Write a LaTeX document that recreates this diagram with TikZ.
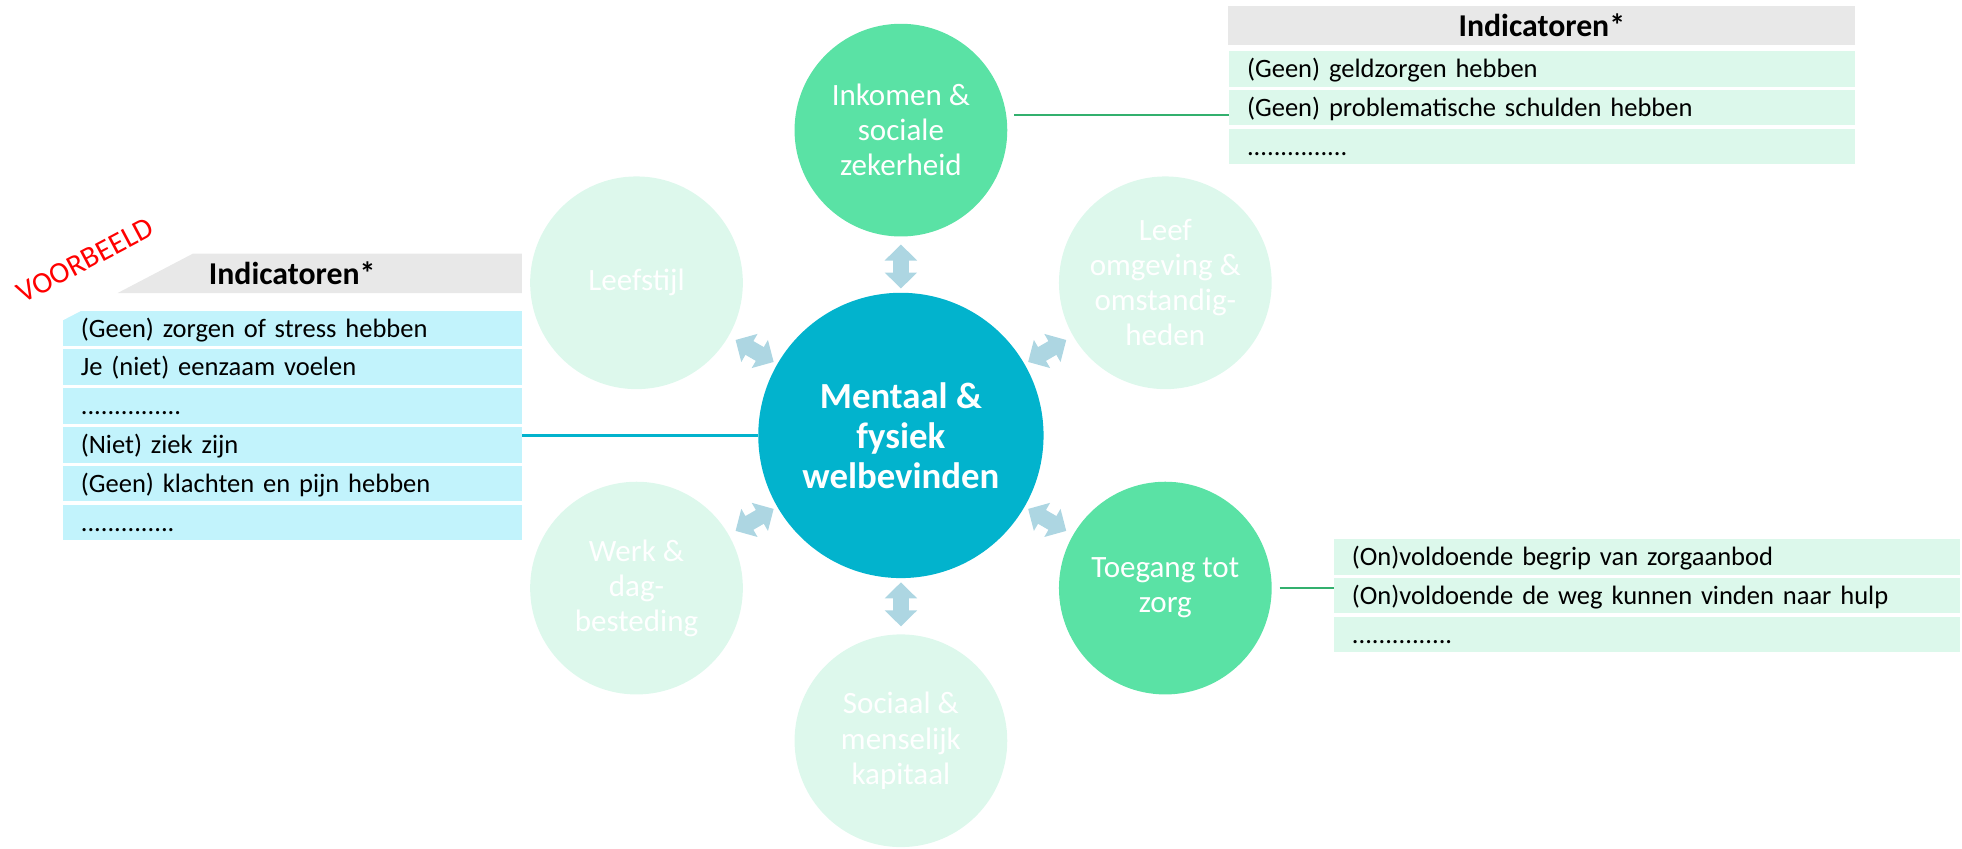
\documentclass[tikz,border=0pt]{standalone}
\usepackage{fontspec}
\setmainfont{Carlito}
\usepackage{tikz}
\usetikzlibrary{arrows.meta}
\usetikzlibrary{positioning}
\definecolor{hubblue}{HTML}{02B3CD}
\definecolor{themegreen}{HTML}{5AE2A5}
\definecolor{themepale}{HTML}{DDF8EC}
\definecolor{rowcyan}{HTML}{C2F3FC}
\definecolor{rowgreen}{HTML}{DCF8EB}
\definecolor{headgray}{HTML}{E8E8E8}
\definecolor{linkblue}{HTML}{ADD6E2}
\definecolor{linegreen}{HTML}{33B06E}
\tikzset{>=latex}
\newcommand\hubsize{114pt}
\newcommand\themesize{85pt}
\newcommand\themedist{122pt}
\newcommand\rowheight{14.2pt}
\newcommand\rowpitch{15.5pt}
\tikzset{
    hub/.style={circle, fill=hubblue, minimum size=\hubsize, inner sep=0pt, text=white, align=center, font=\fontsize{14.7}{16}\selectfont\bfseries},
    theme/.style={circle, fill=themepale, minimum size=\themesize, inner sep=0pt, text=white, align=center, font=\fontsize{12.4}{14}\selectfont},
    active/.style={fill=themegreen},
    twoway/.style={{Triangle[width=12.6pt,length=6.4pt]}-{Triangle[width=12.6pt,length=6.4pt]}, line width=6.35pt, linkblue, shorten <=1.5pt, shorten >=3pt},
    link/.style={line width=0.9pt},
}
\tikzset{
    row/.style={minimum height=\rowheight, inner xsep=7.3pt, inner ysep=0pt, outer sep=0pt, text height=8.4pt, text depth=1.4pt, align=left, font=\fontsize{10.6}{12}\selectfont, node distance=\rowpitch, on grid},
    leftrow/.style={row, fill=rowcyan, text width=168.9pt},
    rightrow/.style={row, fill=rowgreen, text width=235.6pt},
    tablehead/.style={minimum height=15.7pt, inner sep=0pt, outer sep=0pt, text height=9.5pt, text depth=0.7pt, font=\fontsize{12.7}{14}\selectfont\bfseries},
}
\begin{document}
\begin{tikzpicture}[x=1pt,y=1pt]
    \useasboundingbox (-360,-165) rectangle (424,174);
    % hub and themes
    \node(hub)[hub]{Mentaal \&\\fysiek\\welbevinden};
    \node(inkomen)[theme, active] at (90:\themedist){Inkomen \&\\sociale\\zekerheid};
    \node(leefomg)[theme] at (30:\themedist){Leef\\omgeving \&\\omstandig-\\heden};
    \node(toegang)[theme, active] at (-30:\themedist){Toegang tot\\zorg};
    \node(sociaal)[theme] at (-90:\themedist){Sociaal \&\\menselijk\\kapitaal};
    \node(werk)[theme] at (-150:\themedist){Werk \&\\dag-\\besteding};
    \node(leefstijl)[theme] at (150:\themedist){Leefstijl};
    \foreach \t in {inkomen,leefomg,toegang,sociaal,werk,leefstijl}
        \draw[twoway] (hub) -- (\t);
    % left table
    \fill[headgray] (-283,72.6) -- (-151.5,72.6) -- (-151.5,56.9) -- (-313,56.9) -- cycle;
    \node(lhead)[tablehead] at (-243.25,64.75){Indicatoren*};
    \node(lrow1)[leftrow] at (-243.25,42.75){(Geen) zorgen of stress hebben};
    \node(lrow2)[leftrow, below of=lrow1]{Je (niet) eenzaam voelen};
    \node(lrow3)[leftrow, below of=lrow2]{...............};
    \node(lrow4)[leftrow, below of=lrow3]{(Niet) ziek zijn};
    \node(lrow5)[leftrow, below of=lrow4]{(Geen) klachten en pijn hebben};
    \node(lrow6)[leftrow, below of=lrow5]{..............};
    \fill[white] (lrow1.north west) -- ++(7.5,0) -- ++(-7.5,-3.9) -- cycle;
    \node(voorbeeld)[red, rotate=28, inner sep=0pt, font=\fontsize{12}{13}\selectfont] at (-326,70){VOORBEELD};
    % right tables
    \node(rhead)[tablehead, fill=headgray, minimum width=250.45pt] at (256.1,163.7){Indicatoren*};
    \node(rtop1)[rightrow] at (256.1,146.5){(Geen) geldzorgen hebben};
    \node(rtop2)[rightrow, below of=rtop1]{(Geen) problematische schulden hebben};
    \node(rtop3)[rightrow, below of=rtop2]{...............};
    \node(rbot1)[rightrow] at (298,-48.5){(On)voldoende begrip van zorgaanbod};
    \node(rbot2)[rightrow, below of=rbot1]{(On)voldoende de weg kunnen vinden naar hulp};
    \node(rbot3)[rightrow, below of=rbot2]{...............};
    % links to the tables
    \draw[link, hubblue] (hub.west) -- (hub.west -| lrow4.east);
    \draw[link, linegreen, shorten <=3pt] (inkomen.8) -- (inkomen.8 -| rtop2.west);
    \draw[link, linegreen, shorten <=3pt] (toegang.east) -- (toegang.east -| rbot2.west);
\end{tikzpicture}
\end{document}
